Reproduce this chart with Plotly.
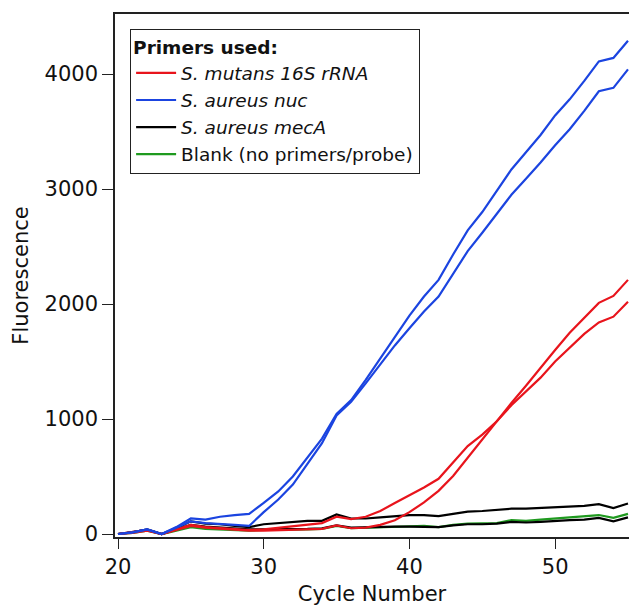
import plotly.graph_objects as go

cycles = list(range(20, 56))

mutans_a = [0, 15, 35, 0, 40, 80, 60, 50, 40, 35, 40, 55, 70, 85, 95, 150, 130, 150, 200, 270,
            335, 405, 480, 620, 765, 865, 980, 1120, 1240, 1360, 1500, 1620, 1740, 1840, 1890, 2020]
mutans_b = [0, 10, 30, 0, 35, 70, 55, 45, 35, 30, 30, 35, 40, 45, 45, 75, 50, 55, 80, 120,
            190, 275, 375, 505, 665, 825, 985, 1140, 1290, 1440, 1600, 1750, 1880, 2010, 2070, 2210]
nuc_a = [0, 15, 40, 0, 60, 135, 125, 150, 165, 175, 270, 370, 500, 660, 830, 1045, 1165, 1340, 1530, 1720,
         1900, 2065, 2210, 2430, 2640, 2800, 2980, 3170, 3320, 3470, 3640, 3780, 3940, 4110, 4140, 4290]
nuc_b = [0, 15, 40, 0, 55, 110, 95, 90, 80, 70, 190, 300, 430, 610, 790, 1030, 1150, 1310, 1480, 1640,
         1790, 1935, 2065, 2265, 2460, 2620, 2780, 2950, 3090, 3230, 3380, 3520, 3680, 3850, 3880, 4040]
meca_a = [0, 15, 40, 0, 50, 110, 90, 85, 70, 60, 85, 95, 105, 115, 115, 170, 135, 135, 145, 155,
          165, 165, 155, 175, 195, 200, 210, 220, 220, 225, 235, 240, 245, 260, 225, 265]
meca_b = [0, 15, 35, 0, 40, 80, 65, 55, 50, 40, 40, 40, 45, 45, 50, 75, 55, 60, 65, 65,
          65, 65, 60, 75, 85, 85, 90, 105, 100, 105, 115, 120, 125, 140, 110, 145]
blank = [0, 10, 30, 0, 30, 60, 45, 40, 35, 30, 35, 35, 40, 40, 45, 70, 50, 55, 60, 60,
         65, 70, 60, 80, 90, 90, 95, 120, 115, 125, 135, 145, 150, 165, 140, 175]

series = [
    ("mutans", "<i>S. mutans 16S rRNA</i>", "#e8141c", [mutans_a, mutans_b]),
    ("nuc", "<i>S. aureus nuc</i>", "#1b44e0", [nuc_a, nuc_b]),
    ("meca", "<i>S. aureus mecA</i>", "#000000", [meca_a, meca_b]),
    ("blank", "Blank (no primers/probe)", "#1f9a1f", [blank]),
]

fig = go.Figure()
ranks = {"mutans": 1, "nuc": 2, "meca": 3, "blank": 4}
for key, name, color, reps in [series[3], series[2], series[0], series[1]]:
    for i, ys in enumerate(reps):
        fig.add_trace(go.Scatter(
            x=cycles, y=ys, mode="lines", name=name,
            line=dict(color=color, width=2.2),
            legendgroup=key, showlegend=(i == 0), legendrank=ranks[key],
        ))

font = "DejaVu Sans"
fig.update_layout(
    width=629, height=607,
    margin=dict(l=115, r=0, t=14, b=70),
    paper_bgcolor="white", plot_bgcolor="white",
    font=dict(family=font, size=21, color="#111"),
    showlegend=True,
    legend=dict(
        x=0.029, y=0.971, xanchor="left", yanchor="top",
        bgcolor="white", bordercolor="#222", borderwidth=1.2,
        font=dict(family=font, size=18.5, color="#111"),
        title=dict(text="<b>Primers used:</b>", font=dict(family=font, size=18.5, color="#111")),
        tracegroupgap=0, itemwidth=40,
    ),
    xaxis=dict(
        range=[19.794, 55.07], tickvals=[20, 30, 40, 50],
        showgrid=False, zeroline=False,
        showline=True, linecolor="#222", linewidth=1.5, mirror=True,
        ticks="outside", ticklen=10, tickwidth=1.3, tickcolor="#222",
        tickfont=dict(size=21),
        title=dict(text="Cycle Number", font=dict(size=21), standoff=8),
    ),
    yaxis=dict(
        range=[-26, 4522], tickvals=[0, 1000, 2000, 3000, 4000],
        showgrid=False, zeroline=False,
        showline=True, linecolor="#222", linewidth=1.5,
        ticks="outside", ticklen=11, tickwidth=1.3, tickcolor="#222",
        tickfont=dict(size=21),
        title=dict(text="Fluorescence", font=dict(size=21), standoff=10),
    ),
)

fig.write_html(
    "out.html",
    config={"displayModeBar": False},
    post_script="document.body.style.margin='0';document.body.style.overflow='hidden';",
)
